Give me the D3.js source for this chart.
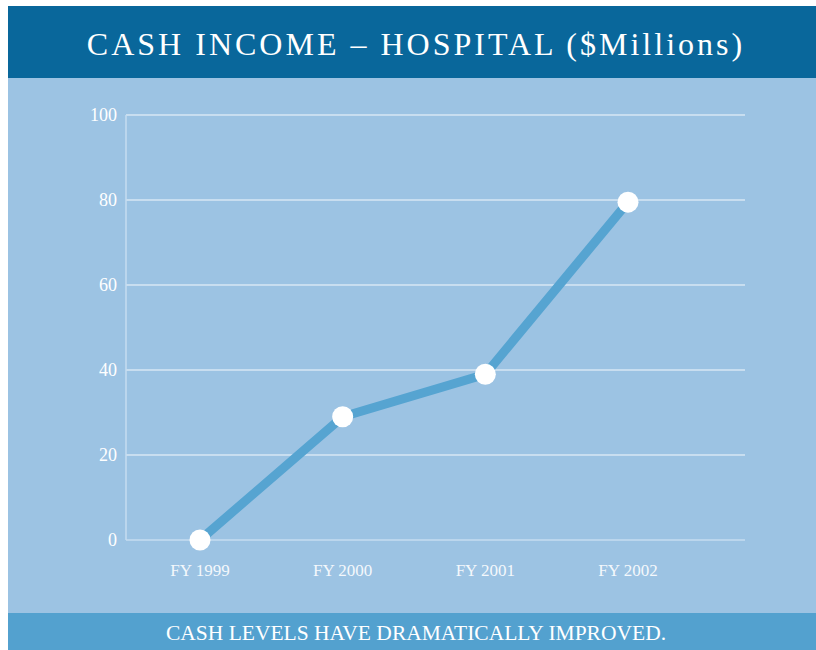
<!DOCTYPE html>
<html>
<head>
<meta charset="utf-8">
<script src="https://cdn.jsdelivr.net/npm/d3@7"></script>
<style>
  body { margin: 0; background: #fff; }
  text { font-family: "Liberation Serif", "DejaVu Serif", serif; }
</style>
</head>
<body>
<svg id="chart" width="816" height="650"></svg>
<script>
"use strict";

// Data
const years = ["FY 1999", "FY 2000", "FY 2001", "FY 2002"],
  cash = [0, 29, 39, 79.5],
  yTicks = [0, 20, 40, 60, 80, 100];

const title = "CASH INCOME \u2013 HOSPITAL ($Millions)",
  footer = "CASH LEVELS HAVE DRAMATICALLY IMPROVED.";

var svg = d3.select("#chart");

// panels
svg.append("rect")
  .attr("x", 8).attr("y", 78)
  .attr("width", 808).attr("height", 535)
  .attr("fill", "#9cc3e3");

svg.append("rect")
  .attr("x", 8).attr("y", 6)
  .attr("width", 808).attr("height", 72)
  .attr("fill", "#09679b");

svg.append("rect")
  .attr("x", 8).attr("y", 613)
  .attr("width", 808).attr("height", 37)
  .attr("fill", "#53a1cf");

svg.append("text")
  .attr("x", 416).attr("y", 55)
  .attr("text-anchor", "middle")
  .attr("fill", "#fff")
  .attr("font-size", 32)
  .attr("letter-spacing", 3)
  .text(title);

svg.append("text")
  .attr("x", 416).attr("y", 640)
  .attr("text-anchor", "middle")
  .attr("fill", "#fff")
  .attr("font-size", 21.5)
  .text(footer);

// scales
var x = d3.scalePoint()
  .domain(years)
  .range([200, 628]);

var y = d3.scaleLinear()
  .domain([0, 100])
  .range([540, 115]);

var plotLeft = 126, plotRight = 745;

// gridlines
svg.append("g")
  .selectAll("line")
  .data(yTicks)
  .enter()
  .append("line")
  .attr("x1", plotLeft)
  .attr("x2", plotRight)
  .attr("y1", d => y(d))
  .attr("y2", d => y(d))
  .attr("stroke", d => d === 0 ? "#c6ddf0" : "#f4f8fc")
  .attr("stroke-width", d => d === 0 ? 1.5 : 1);

svg.append("line")
  .attr("x1", plotLeft).attr("x2", plotLeft)
  .attr("y1", y(100)).attr("y2", y(0))
  .attr("stroke", "#c6ddf0")
  .attr("stroke-width", 1.5);

// y tick labels
svg.append("g")
  .selectAll("text")
  .data(yTicks)
  .enter()
  .append("text")
  .attr("x", 117)
  .attr("y", d => y(d) + 6)
  .attr("text-anchor", "end")
  .attr("fill", "#fff")
  .attr("font-size", 18)
  .text(d => d);

// x labels
svg.append("g")
  .selectAll("text")
  .data(years)
  .enter()
  .append("text")
  .attr("x", d => x(d))
  .attr("y", 576)
  .attr("text-anchor", "middle")
  .attr("fill", "#f4f8fc")
  .attr("font-size", 17)
  .text(d => d);

// line
var line = d3.line()
  .x((d, i) => x(years[i]))
  .y(d => y(d));

svg.append("path")
  .datum(cash)
  .attr("d", line)
  .attr("fill", "none")
  .attr("stroke", "#56a4d1")
  .attr("stroke-width", 9);

svg.append("g")
  .selectAll("circle")
  .data(cash)
  .enter()
  .append("circle")
  .attr("cx", (d, i) => x(years[i]))
  .attr("cy", d => y(d))
  .attr("r", 10.5)
  .attr("fill", "#fff");
</script>
</body>
</html>
